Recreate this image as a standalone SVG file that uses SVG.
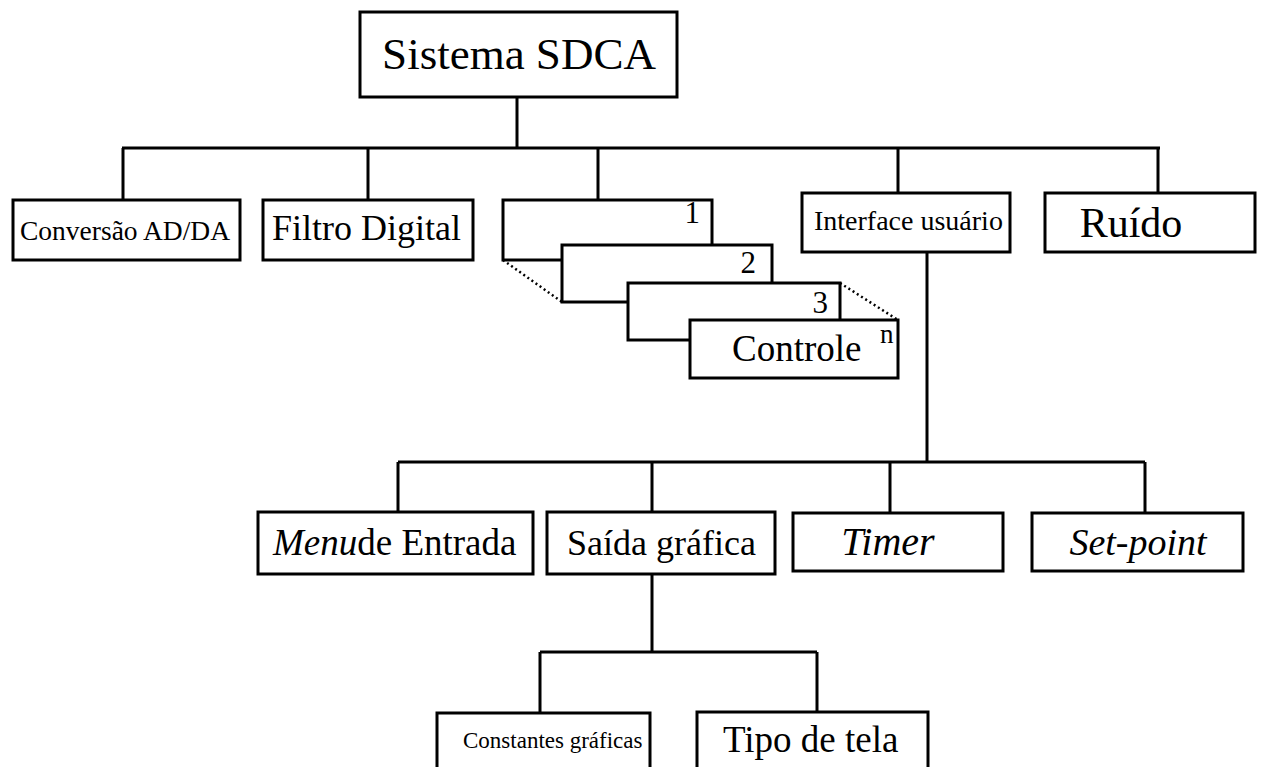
<svg xmlns="http://www.w3.org/2000/svg" width="1261" height="767" viewBox="0 0 1261 767">
<style>
.box{fill:#fff;stroke:#000;stroke-width:3}
.ln{fill:none;stroke:#000;stroke-width:3}
.dot{fill:none;stroke:#000;stroke-width:2.5;stroke-dasharray:2 3}
text{font-family:"Liberation Serif","Times New Roman",serif;fill:#000}
.it{font-style:italic}
</style>
<rect width="1261" height="767" fill="#fff"/>
<g id="connectors">
<path class="ln" d="M517,97V148M122,148H1160M123,148V200M368,148V200M598,148V200M898,148V193M1158,148V193"/>
<path class="ln" d="M927,252V462M398,462H1145M398,462V512M652,462V512M890,462V513M1145,462V513"/>
<path class="ln" d="M652,572V652M540,652H817M540,652V713M817,652V712"/>
</g>
<g id="n-sistema"><rect class="box" x="360" y="12" width="317" height="85"/><text x="519" y="69" font-size="45" text-anchor="middle">Sistema SDCA</text></g>
<g id="n-conversao"><rect class="box" x="13" y="200" width="227" height="60"/><text x="20" y="240" font-size="27.5">Conversão AD/DA</text></g>
<g id="n-filtro"><rect class="box" x="263" y="200" width="210" height="60"/><text x="272" y="240" font-size="36">Filtro Digital</text></g>
<g id="n-controle">
<rect class="box" x="503" y="200" width="209" height="60"/><text x="700" y="223" font-size="31" text-anchor="end">1</text>
<path class="dot" d="M503,260L562,302"/>
<rect class="box" x="562" y="245" width="210" height="57"/><text x="756" y="273" font-size="31" text-anchor="end">2</text>
<rect class="box" x="628" y="283" width="212" height="57"/><text x="828" y="313" font-size="31" text-anchor="end">3</text>
<path class="dot" d="M840,283L898,320"/>
<rect class="box" x="690" y="320" width="208" height="58"/><text x="732" y="361" font-size="37">Controle</text><text x="880" y="343" font-size="27">n</text>
</g>
<g id="n-interface"><rect class="box" x="802" y="193" width="208" height="59"/><text x="814" y="230" font-size="28">Interface usuário</text></g>
<g id="n-ruido"><rect class="box" x="1045" y="193" width="210" height="59"/><text x="1131" y="237" font-size="42" text-anchor="middle">Ruído</text></g>
<g id="n-menu"><rect class="box" x="258" y="512" width="275" height="62"/><text x="273" y="555" font-size="37"><tspan class="it">Menu</tspan>de Entrada</text></g>
<g id="n-saida"><rect class="box" x="547" y="512" width="228" height="62"/><text x="567" y="555" font-size="36">Saída gráfica</text></g>
<g id="n-timer"><rect class="box" x="793" y="513" width="210" height="58"/><text x="888" y="555" font-size="40" class="it" text-anchor="middle">Timer</text></g>
<g id="n-setpoint"><rect class="box" x="1032" y="513" width="211" height="58"/><text x="1138" y="555" font-size="38" class="it" text-anchor="middle">Set-point</text></g>
<g id="n-constantes"><rect class="box" x="437" y="713" width="213" height="70"/><text x="463" y="748" font-size="23">Constantes gráficas</text></g>
<g id="n-tipo"><rect class="box" x="697" y="712" width="231" height="70"/><text x="723" y="752" font-size="37">Tipo de tela</text></g>
</svg>
